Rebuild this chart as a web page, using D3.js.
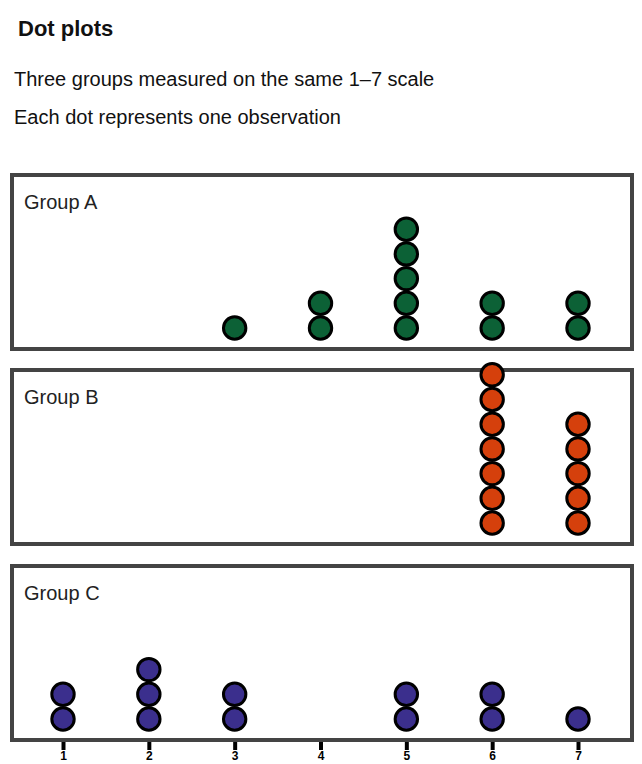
<!DOCTYPE html>
<html>
<head>
<meta charset="utf-8">
<script src="https://cdn.jsdelivr.net/npm/d3@7"></script>
<style>
html,body{margin:0;padding:0;background:#fff;}
svg{display:block;font-family:"Liberation Sans",Arial,sans-serif;}
</style>
</head>
<body>
<svg id="chart" width="642" height="764"></svg>
<script>
// ---- data ----
const categories = [1, 2, 3, 4, 5, 6, 7];
const tickLabels = ["1", "2", "3", "4", "5", "6", "7"];
const panelNames = ["Group A", "Group B", "Group C"];
const countsA = [0, 0, 1, 2, 5, 2, 2];
const countsB = [0, 0, 0, 0, 0, 7, 5];
const countsC = [2, 3, 2, 0, 2, 2, 1];
const panelColors = ["#0c6136", "#d5400c", "#3b2f8d"];
const titleLines = ["Dot plots", "Three groups measured on the same 1–7 scale", "Each dot represents one observation"];

const seriesList = [countsA, countsB, countsC];

const svg = d3.select("#chart");
const left = 12, right = 632;
const panelTops = [175, 370, 566];
const panelH = 174;

const x = d3.scalePoint().domain(categories).range([63, 578]);
const y = d3.scaleLinear().domain([0, 1]).range([0, 24.7]);

// title
const tg = svg.append("g");
tg.append("text").attr("x", 18).attr("y", 36).attr("font-size", 22).attr("font-weight", "bold").attr("fill", "#111").text(titleLines[0]);
tg.append("text").attr("x", 14).attr("y", 86).attr("font-size", 20).attr("fill", "#111").text(titleLines[1]);
tg.append("text").attr("x", 14).attr("y", 124).attr("font-size", 20).attr("fill", "#111").text(titleLines[2]);

seriesList.forEach((counts, i) => {
  const top = panelTops[i];
  const g = svg.append("g");
  g.append("rect")
    .attr("x", left).attr("y", top)
    .attr("width", right - left).attr("height", panelH)
    .attr("fill", "#fff").attr("stroke", "#444").attr("stroke-width", 4);
  g.append("text")
    .attr("x", 24).attr("y", top + 34)
    .attr("font-size", 20).attr("fill", "#222")
    .text(panelNames[i]);
});

// dots drawn after frames so overflow sits on top
seriesList.forEach((counts, i) => {
  const bottom = panelTops[i] + panelH;
  const pts = [];
  categories.forEach((c, j) => {
    for (let k = 0; k < counts[j]; k++) pts.push({c, k});
  });
  svg.append("g").selectAll("circle").data(pts).join("circle")
    .attr("cx", d => x(d.c))
    .attr("cy", d => bottom - 21 - y(d.k))
    .attr("r", 11.2)
    .attr("fill", panelColors[i])
    .attr("stroke", "#000")
    .attr("stroke-width", 3);
});

// x axis under last panel
const axisY = panelTops[2] + panelH + 2;
const axis = d3.axisBottom(x).tickSize(8).tickPadding(1).tickFormat((d, i) => tickLabels[i]);
const ag = svg.append("g").attr("transform", `translate(0,${axisY})`).call(axis);
ag.select(".domain").remove();
ag.selectAll(".tick line").attr("stroke", "#000").attr("stroke-width", 4);
ag.selectAll(".tick text").attr("font-size", 12).attr("font-weight", "bold").attr("fill", "#000");
</script>
</body>
</html>
